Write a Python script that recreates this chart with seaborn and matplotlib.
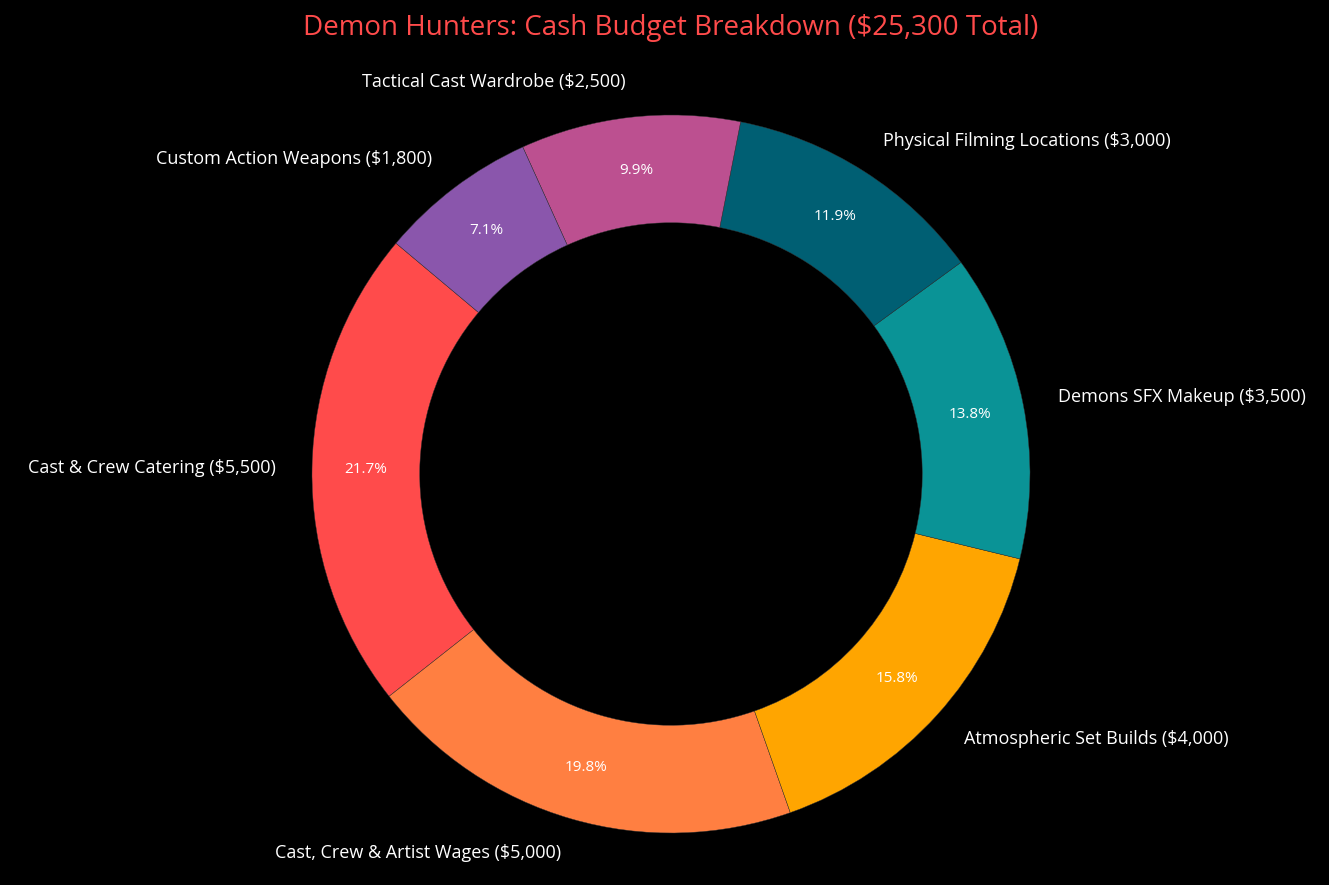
import matplotlib
matplotlib.use("Agg")
import matplotlib.pyplot as plt
import seaborn as sns

# Budget data
categories = ['Cast & Crew Catering', 'Cast, Crew & Artist Wages', 'Atmospheric Set Builds',
              'Demons SFX Makeup', 'Physical Filming Locations', 'Tactical Cast Wardrobe',
              'Custom Action Weapons']
amounts = [5500, 5000, 4000, 3500, 3000, 2500, 1800]
colors = ['#FF4B4B', '#FF7F41', '#FFA500', '#0A9396', '#005F73', '#BC5090', '#8A56AC']

sns.set_theme(style="dark", rc={"figure.facecolor": "black", "axes.facecolor": "black",
                                "savefig.facecolor": "black"})
plt.rcParams['font.family'] = ['Open Sans', 'DejaVu Sans']
sns.set_palette(colors)

total = sum(amounts)
labels = [f"{c} (${a:,})" for c, a in zip(categories, amounts)]

fig = plt.figure(figsize=(13.29, 8.85), dpi=100)
# place the pie so radius 1 -> ~359 px, centre at (671, 474)
r_px = 359
ax = fig.add_axes([(671 - 1.25 * r_px) / 1329, (885 - 474 - 1.25 * r_px) / 885,
                   2.5 * r_px / 1329, 2.5 * r_px / 885])

wedges, texts, autotexts = ax.pie(
    amounts, labels=labels, colors=sns.color_palette(colors), startangle=140,
    autopct='%1.1f%%', pctdistance=0.85, labeldistance=1.1,
    wedgeprops=dict(width=0.3, linewidth=0.3, edgecolor='#333333'),
    textprops=dict(color='white', fontsize=13))
for t in autotexts:
    t.set_fontsize(11)
    t.set_color('white')

ax.set_xlim(-1.25, 1.25)
ax.set_ylim(-1.25, 1.25)
ax.set_facecolor('black')

fig.text(671 / 1329, 1 - 28 / 885, f"Demon Hunters: Cash Budget Breakdown (${total:,} Total)",
         ha='center', va='center', fontsize=20, color='#FF4B4B')

fig.savefig('out.png', dpi=100, facecolor='black')
